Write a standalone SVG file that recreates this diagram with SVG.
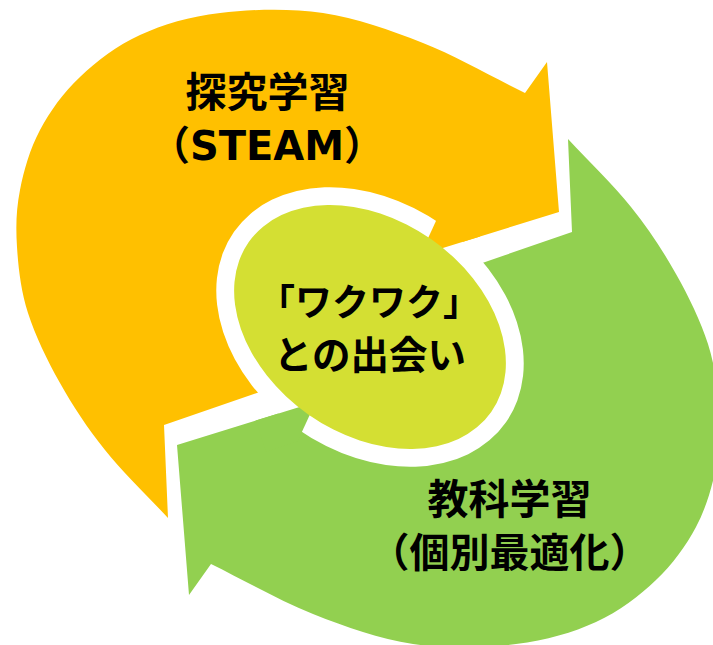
<svg xmlns="http://www.w3.org/2000/svg" xmlns:xlink="http://www.w3.org/1999/xlink" width="713" height="645" viewBox="0 0 713 645">
<style>
.lbl{font-family:"Noto Sans CJK JP","Noto Sans CJK SC",sans-serif;font-weight:bold;fill:#000;text-anchor:middle}
.lat{font-family:"DejaVu Sans","Noto Sans CJK JP",sans-serif;font-weight:bold}
.orange{fill:#FFC000}
.green{fill:#92D050}
</style>
<defs>
<path id="arrowShape" d="M 525,93 C 491,76.3 456.7,56.3 423,43 C 389.3,29.7 356.8,18 323,13 C 289.2,8 250.5,9.3 220,13 C 189.5,16.7 163.3,24.3 140,35 C 116.7,45.7 96.7,61.2 80,77 C 63.3,92.8 50,111.2 40,130 C 30,148.8 23.8,170.5 20,190 C 16.2,209.5 15.7,226.5 17,247 C 18.3,267.5 20.8,290.3 28,313 C 35.2,335.7 47.2,360.2 60,383 C 72.8,405.8 87,427.5 105,450 C 123,472.5 147,495.3 168,518 L 164,425 L 300,378 L 370,328 L 430,252 L 559,212 L 547,62 Z"/>
<polygon id="patch" points="438.5,215.5 424,247 430,252 480,236.5 470,205"/>
</defs>
<g id="connectors">
<use id="arrow-inquiry" xlink:href="#arrowShape" href="#arrowShape" class="orange"/>
<use id="arrow-subject" xlink:href="#arrowShape" href="#arrowShape" class="green" transform="rotate(180 368 328.5)"/>
</g>
<g id="center-node">
<ellipse cx="370" cy="327" rx="166" ry="125" fill="#FFFFFF" transform="rotate(35 370 327)"/>
<use xlink:href="#patch" href="#patch" class="orange"/>
<use xlink:href="#patch" href="#patch" class="green" transform="rotate(180 368 328.5)"/>
<ellipse cx="370" cy="327" rx="148" ry="107" fill="#D4DF33" transform="rotate(35 370 327)"/>
<text class="lbl"><tspan x="369" y="316" font-size="37">「ワクワク」</tspan><tspan x="370" y="369" font-size="38.5">との出会い</tspan></text>
</g>
<g id="node-inquiry">
<text class="lbl"><tspan x="267.5" y="106.5" font-size="41">探究学習</tspan><tspan x="267" y="159.5" font-size="40">（<tspan class="lat">STEAM</tspan>）</tspan></text>
</g>
<g id="node-subject">
<text class="lbl"><tspan x="509.5" y="513.5" font-size="41">教科学習</tspan><tspan x="509.5" y="566.5" font-size="40">（個別最適化）</tspan></text>
</g>
</svg>
